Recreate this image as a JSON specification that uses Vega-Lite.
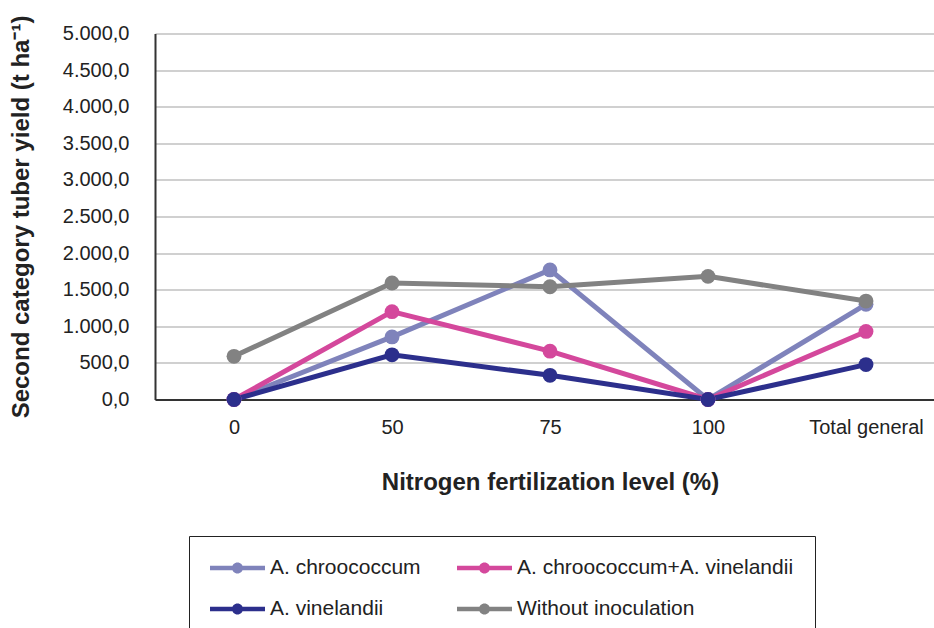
{
  "$schema": "https://vega.github.io/schema/vega-lite/v6.json",
  "width": 790,
  "height": 366,
  "autosize": {"type": "none"},
  "padding": {"left": 155, "top": 33.5, "right": 0, "bottom": 230},
  "background": "white",
  "config": {
    "locale": {"number": {"decimal": ",", "thousands": ".", "grouping": [3], "currency": ["", ""]}},
    "font": "Liberation Sans",
    "view": {"stroke": null},
    "legend": {
      "title": null,
      "orient": "none",
      "legendX": 34,
      "legendY": 502.5,
      "columns": 2,
      "direction": "horizontal",
      "symbolType": "M-1,-0.21H4V0.21H-1Z M2,0A0.5,0.5,0,1,1,1,0A0.5,0.5,0,1,1,2,0Z",
      "symbolSize": 484,
      "symbolStrokeWidth": 0,
      "symbolOpacity": 1,
      "labelFontSize": 21,
      "labelLimit": 500,
      "labelColor": "#222222",
      "labelOffset": 38,
      "columnPadding": 36,
      "rowPadding": 20,
      "padding": 21,
      "strokeColor": "#222222"
    }
  },
  "data": {
    "values": [
      {"level": "0", "treatment": "A. chroococcum", "yield": 0},
      {"level": "50", "treatment": "A. chroococcum", "yield": 855},
      {"level": "75", "treatment": "A. chroococcum", "yield": 1770},
      {"level": "100", "treatment": "A. chroococcum", "yield": 0},
      {"level": "Total general", "treatment": "A. chroococcum", "yield": 1300},
      {"level": "0", "treatment": "A. chroococcum+A. vinelandii", "yield": 0},
      {"level": "50", "treatment": "A. chroococcum+A. vinelandii", "yield": 1200},
      {"level": "75", "treatment": "A. chroococcum+A. vinelandii", "yield": 660},
      {"level": "100", "treatment": "A. chroococcum+A. vinelandii", "yield": 0},
      {"level": "Total general", "treatment": "A. chroococcum+A. vinelandii", "yield": 930},
      {"level": "0", "treatment": "A. vinelandii", "yield": 0},
      {"level": "50", "treatment": "A. vinelandii", "yield": 610},
      {"level": "75", "treatment": "A. vinelandii", "yield": 330},
      {"level": "100", "treatment": "A. vinelandii", "yield": 0},
      {"level": "Total general", "treatment": "A. vinelandii", "yield": 477},
      {"level": "0", "treatment": "Without inoculation", "yield": 590},
      {"level": "50", "treatment": "Without inoculation", "yield": 1592},
      {"level": "75", "treatment": "Without inoculation", "yield": 1540},
      {"level": "100", "treatment": "Without inoculation", "yield": 1682},
      {"level": "Total general", "treatment": "Without inoculation", "yield": 1345}
    ]
  },
  "encoding": {
    "x": {
      "field": "level",
      "type": "ordinal",
      "sort": ["0", "50", "75", "100", "Total general"],
      "scale": {"type": "point", "padding": 0.5},
      "axis": {
        "title": "Nitrogen fertilization level (%)",
        "labelAngle": 0,
        "labelFontSize": 20,
        "labelColor": "#222222",
        "labelPadding": 18,
        "titleFontSize": 24,
        "titleFontWeight": "bold",
        "titleColor": "#222222",
        "titlePadding": 33,
        "domainColor": "#333333",
        "domainWidth": 2,
        "ticks": false,
        "grid": false
      }
    },
    "y": {
      "field": "yield",
      "type": "quantitative",
      "scale": {"domain": [0, 5000], "nice": false},
      "axis": {
        "title": "Second category tuber yield (t ha⁻¹)",
        "format": ",.1f",
        "values": [0, 500, 1000, 1500, 2000, 2500, 3000, 3500, 4000, 4500, 5000],
        "labelFontSize": 20,
        "labelColor": "#222222",
        "labelPadding": 26,
        "titleFontSize": 24,
        "titleFontWeight": "bold",
        "titleColor": "#222222",
        "titlePadding": 29,
        "domainColor": "#333333",
        "domainWidth": 2,
        "ticks": false,
        "grid": true,
        "gridColor": "#c0c0c0",
        "gridWidth": 1.5
      }
    },
    "color": {
      "field": "treatment",
      "type": "nominal",
      "scale": {
        "domain": ["A. chroococcum", "A. chroococcum+A. vinelandii", "A. vinelandii", "Without inoculation"],
        "range": ["#7f83bb", "#d4489c", "#2c2f8c", "#828282"]
      }
    }
  },
  "layer": [
    {"mark": {"type": "line", "strokeWidth": 5}},
    {"mark": {"type": "circle", "size": 220, "opacity": 1}}
  ]
}
